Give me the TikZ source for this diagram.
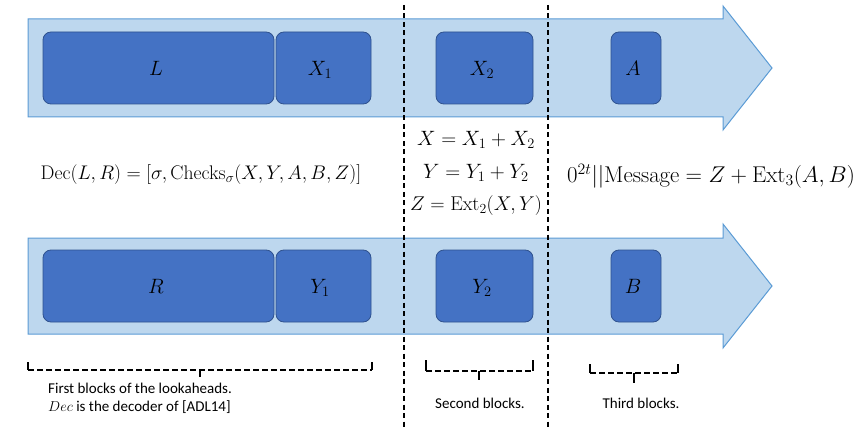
\documentclass[tikz,border=0pt]{standalone}
\usepackage[no-math]{fontspec}
\setmainfont{Carlito}
\usepackage{amsmath}
\usepackage{graphicx}
\definecolor{arrowfill}{HTML}{BDD7EE}
\definecolor{arrowline}{HTML}{5B9BD5}
\definecolor{blockfill}{HTML}{4472C4}
\definecolor{blockline}{HTML}{2F528F}
\tikzset{
  bigarrow/.style={fill=arrowfill, draw=arrowline, line width=1pt},
  blockbox/.style={fill=blockfill, draw=blockline, line width=0.8pt, rounded corners=8pt},
  sepline/.style={dashed, dash pattern=on 5pt off 3.5pt, line width=1.2pt, black},
  bracestyle/.style={dashed, dash pattern=on 5.5pt off 3.5pt, line width=1.2pt, black},
  bracetick/.style={line width=1.3pt, black},
  mathlbl/.style={font=\fontsize{20.74}{24}\selectfont, inner sep=0pt},
  declbl/.style={font=\fontsize{17.28}{21}\selectfont, inner sep=0pt},
  eqlbl/.style={font=\fontsize{20.74}{25}\selectfont, inner sep=0pt},
  smalltxt/.style={font=\fontsize{15}{18}\selectfont, inner sep=0pt, align=left}
}
\begin{document}
\begin{tikzpicture}[x=1pt, y=-1pt]
\useasboundingbox (0,0) rectangle (858,430);
% arrows
\draw[bigarrow] (28,19) -- (723,19) -- (723,6) -- (772,68) -- (723,130) -- (723,117) -- (28,117) -- cycle;
\draw[bigarrow] (28,238) -- (723,238) -- (723,224) -- (772,286) -- (723,348) -- (723,334) -- (28,334) -- cycle;
% top blocks
\draw[blockbox] (43,32) rectangle (274,104);
\draw[blockbox] (276,32) rectangle (371,104);
\draw[blockbox] (436,32) rectangle (533,104);
\draw[blockbox] (611,32) rectangle (661,104);
\node[mathlbl] (L) at (156,68) {$L$};
\node[mathlbl] (X1) at (320,70) {$X_1$};
\node[mathlbl] (X2) at (482,70) {$X_2$};
\node[mathlbl] (A) at (633,68) {$A$};
% bottom blocks
\draw[blockbox] (43,250) rectangle (274,322);
\draw[blockbox] (276,250) rectangle (371,322);
\draw[blockbox] (436,250) rectangle (533,322);
\draw[blockbox] (611,250) rectangle (661,322);
\node[mathlbl] (R) at (156,286) {$R$};
\node[mathlbl] (Y1) at (320,288) {$Y_1$};
\node[mathlbl] (Y2) at (482,288) {$Y_2$};
\node[mathlbl] (B) at (633,286) {$B$};
% separators
\draw[sepline] (404,5) -- (404,430);
\draw[sepline] (548,5) -- (548,430);
% equations
\node[declbl] (dec) at (201,175) {\scalebox{1.14}{$\mathrm{Dec}(L,R)=[\sigma,\mathrm{Checks}_\sigma(X,Y,A,B,Z)]$}};
\node[eqlbl] (eqx) at (476,140) {$X=X_1+X_2$};
\node[eqlbl] (eqy) at (476,173) {$Y=Y_1+Y_2$};
\node[eqlbl] (eqz) at (476,206) {\scalebox{0.96}{$Z=\mathrm{Ext}_2(X,Y)$}};
\node[eqlbl] (msg) at (711,176) {\scalebox{1.1}{$0^{2t}||\mathrm{Message}=Z+\mathrm{Ext}_3(A,B)$}};
% braces
\draw[bracestyle] (28,370) -- (372,370);
\draw[bracetick] (28,362) -- (28,370) (372,362) -- (372,370) (200,370) -- (200,377);
\draw[bracestyle] (426,371) -- (533,371);
\draw[bracetick] (426,360) -- (426,371) (533,360) -- (533,371) (479,371) -- (479,380);
\draw[bracestyle] (590,373) -- (678,373);
\draw[bracetick] (590,364) -- (590,373) (678,364) -- (678,373) (634,373) -- (634,383);
% captions
\node[smalltxt, anchor=west] (cap1) at (48,398) {First blocks of the lookaheads.\\$Dec$ is the decoder of [ADL14]};
\node[smalltxt] (cap2) at (480,403) {Second blocks.};
\node[smalltxt] (cap3) at (641,403) {Third blocks.};
\end{tikzpicture}
\end{document}
